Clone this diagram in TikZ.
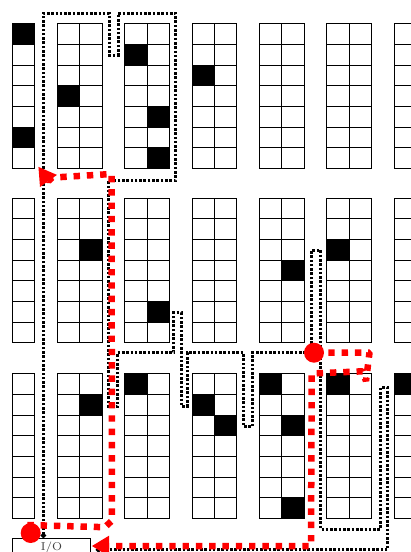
\documentclass[tikz,border=0pt]{standalone}
\usetikzlibrary{arrows.meta}

\begin{document}
\begin{tikzpicture}[
  x=0.2mm,y=-0.2mm,
  cell/.style={rectangle,draw=black,line width=0.2mm,fill=white,minimum width=4.48mm,minimum height=4.134mm,inner sep=0pt},
  full/.style={cell,fill=black},
  iobox/.style={rectangle,draw=black,line width=0.2mm,fill=white,minimum width=15.74mm,minimum height=3.88mm,inner sep=0pt,text=black!75,font=\fontsize{6.5}{8}\selectfont},
  walk/.style={black,line width=0.6mm,dash pattern=on 0.52mm off 0.34mm,{Circle[length=1mm]}-{Circle[length=1mm]}},
  route/.style={red,line width=1.3mm,line join=bevel,dash pattern=on 1.28mm off 1.38mm,-{Triangle[length=3.5mm,width=3.9mm]}},
  stop/.style={circle,fill=red,minimum size=4mm,inner sep=0pt},
]
\clip (0,0) rectangle (411,552);
\foreach \y [count=\b] in {23.7,198.3,373.7} {
  \foreach \r in {0,...,6} {
    \node[cell] (s\b-1-1-\r) at (23.5,{\y+20.67*\r+10.33}) {};
    \foreach \c in {2,...,7} {
      \foreach \s in {0,1} {
        \node[cell] (s\b-\c-\s-\r) at ({57.3+67.4*(\c-2)+22.4*\s+11.2},{\y+20.67*\r+10.33}) {};
      }
    }
  }
}
\foreach \b/\c/\s/\r in {1/1/1/0,1/1/1/5,1/2/0/3,1/3/0/1,1/3/1/4,1/3/1/6,1/4/0/2,
  2/2/1/2,2/3/1/5,2/5/1/3,2/6/0/2,
  3/2/1/1,3/3/0/0,3/4/0/1,3/4/1/2,3/5/0/0,3/5/1/2,3/5/1/6,3/6/0/0,3/7/0/0} {
  \node[full] (f\b-\c-\s-\r) at (s\b-\c-\s-\r) {};
}
\node[iobox] (io) at (51.6,548) {I/O};
% black walk
\coordinate (w0) at (43.3,538);
\coordinate (w1) at (43.3,13.3);
\coordinate (w2) at (109,13.3);
\coordinate (w3) at (109,55);
\coordinate (w4) at (118,55);
\coordinate (w5) at (118,13.3);
\coordinate (w6) at (175.7,13.3);
\coordinate (w7) at (175.7,180);
\coordinate (w8) at (108.6,180);
\coordinate (w9) at (108.6,406.5);
\coordinate (w10) at (117.6,406.5);
\coordinate (w11) at (117.6,352.7);
\coordinate (w12) at (173.7,352.7);
\coordinate (w13) at (173.7,312.7);
\coordinate (w14) at (181,312.7);
\coordinate (w15) at (181,406);
\coordinate (w16) at (187.3,406);
\coordinate (w17) at (187.3,352.7);
\coordinate (w18) at (243.7,352.7);
\coordinate (w19) at (243.7,426.7);
\coordinate (w20) at (252.3,426.7);
\coordinate (w21) at (252.3,352.7);
\coordinate (w22) at (311.7,352.7);
\coordinate (w23) at (311.7,250);
\coordinate (w24) at (320.7,250);
\coordinate (w25) at (320.7,529);
\coordinate (w26) at (380.7,529);
\coordinate (w27) at (380.7,387.7);
\coordinate (w28) at (387.7,387.7);
\coordinate (w29) at (387.7,549.8);
\coordinate (w30) at (96,549.8);
\draw[walk] (w0) -- (w1) -- (w2) -- (w3) -- (w4) -- (w5) -- (w6) -- (w7) -- (w8) -- (w9) -- (w10) -- (w11) -- (w12) -- (w13) -- (w14) -- (w15) -- (w16) -- (w17) -- (w18) -- (w19) -- (w20) -- (w21) -- (w22) -- (w23) -- (w24) -- (w25) -- (w26) -- (w27) -- (w28) -- (w29) -- (w30);
% red routes
\coordinate (a0) at (27.3,525);
\coordinate (a1) at (105,527.2);
\coordinate (a2) at (112,520.5);
\coordinate (a3) at (111.5,174);
\coordinate (a4) at (52,177.6);
\coordinate (a5) at (48.5,181);
\coordinate (a6) at (38.3,166.7);
\draw[route] (a0) -- (a1) -- (a2) -- (a3) -- (a4) -- (a5) -- (a6);
\coordinate (b0) at (315,352.7);
\coordinate (b1) at (369.5,352.5);
\coordinate (b2) at (366,381);
\coordinate (b3) at (362.5,371.3);
\coordinate (b4) at (311.7,373.5);
\coordinate (b5) at (311,546);
\coordinate (b6) at (91.7,546);
\draw[route] (b0) -- (b1) -- (b2) -- (b3) -- (b4) -- (b5) -- (b6);
\node[stop] (a) at (30.7,533) {};
\node[stop] (b) at (314,352.7) {};
\end{tikzpicture}
\end{document}
